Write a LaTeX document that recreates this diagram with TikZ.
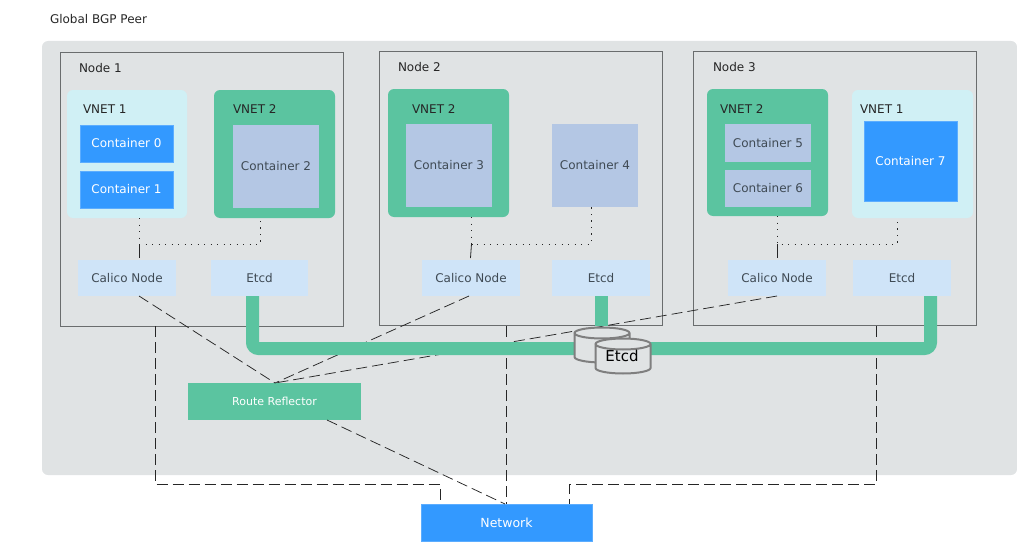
\documentclass[tikz,border=0pt]{standalone}
\usepackage{fontspec}
\setmainfont{DejaVu Sans}
\usetikzlibrary{shapes.geometric}
\definecolor{panel}{HTML}{E0E3E4}
\definecolor{cyanbox}{HTML}{D0F0F5}
\definecolor{greenbox}{HTML}{5BC4A0}
\definecolor{bluebox}{HTML}{3399FF}
\definecolor{paleblue}{HTML}{B4C7E4}
\definecolor{lightblue}{HTML}{CFE4F8}
\definecolor{inktext}{HTML}{3F4A54}
\definecolor{nodeline}{HTML}{6A6D6E}
\definecolor{drumline}{HTML}{7F7F7F}
\tikzset{
  x=1pt,y=-1pt,
  every node/.style={inner sep=0pt,outer sep=0pt,font=\fontsize{12}{14}\selectfont},
  frame/.style={rectangle,draw=nodeline,line width=.9pt,anchor=center},
  vnetone/.style={rectangle,fill=cyanbox,rounded corners=6pt},
  vnettwo/.style={rectangle,fill=greenbox,rounded corners=6pt},
  cont/.style={rectangle,fill=bluebox,text=white,draw=bluebox!80!white,line width=.3pt},
  contpale/.style={rectangle,fill=paleblue,text=inktext},
  svc/.style={rectangle,fill=lightblue,text=inktext},
  caption/.style={text=black!85,anchor=west},
  pipe/.style={draw=greenbox,line width=13pt,rounded corners=6pt},
  dots/.style={draw=black!85,line width=.8pt,dash pattern=on 1.2pt off 5.3pt},
  stem/.style={draw=black!85,line width=.8pt},
  longdash/.style={draw=black!85,line width=.75pt,dash pattern=on 11pt off 5pt},
  drum/.style={draw=drumline,line width=2pt,fill=panel},
}
\begin{document}
\begin{tikzpicture}
\useasboundingbox (0,0) rectangle (1017,543);
\fill[panel,rounded corners=6pt] (42,41) rectangle (1017,475);
\node[caption] (title) at (50,19) {Global BGP Peer};

% Node frames
\node[frame,minimum width=283pt,minimum height=274pt] (node1) at (201.5,189) {};
\node[frame,minimum width=283pt,minimum height=274pt] (node2) at (520.5,188) {};
\node[frame,minimum width=283pt,minimum height=274pt] (node3) at (834.5,188) {};
\node[caption] (node1t) at (79,68) {Node 1};
\node[caption] (node2t) at (398,67) {Node 2};
\node[caption] (node3t) at (713,67) {Node 3};

% VNETs
\node[vnetone,minimum width=120pt,minimum height=128pt] (v11) at (127,154) {};
\node[vnettwo,minimum width=121pt,minimum height=128pt] (v12) at (274.5,154) {};
\node[vnettwo,minimum width=121pt,minimum height=128pt] (v22) at (448.5,153) {};
\node[vnettwo,minimum width=121pt,minimum height=127pt] (v32) at (767.5,152.5) {};
\node[vnetone,minimum width=121pt,minimum height=128pt] (v31) at (912.5,154) {};
\node[caption] at (83,109) {VNET 1};
\node[caption] at (233,109) {VNET 2};
\node[caption] at (412,109) {VNET 2};
\node[caption] at (720,109) {VNET 2};
\node[caption] at (860,109) {VNET 1};

% Containers
\node[cont,minimum width=93pt,minimum height=37pt] (c0) at (126.5,143.5) {Container 0};
\node[cont,minimum width=93pt,minimum height=37pt] (c1) at (126.5,189.5) {Container 1};
\node[contpale,minimum width=86pt,minimum height=83pt] (c2) at (276,166.5) {Container 2};
\node[contpale,minimum width=86pt,minimum height=83pt] (c3) at (449,165.5) {Container 3};
\node[contpale,minimum width=86pt,minimum height=83pt] (c4) at (595,165.5) {Container 4};
\node[contpale,minimum width=86pt,minimum height=38pt] (c5) at (768,143) {Container 5};
\node[contpale,minimum width=86pt,minimum height=37pt] (c6) at (768,188.5) {Container 6};
\node[cont,minimum width=93pt,minimum height=80pt] (c7) at (910.5,161) {Container 7};

% Services
\node[svc,minimum width=98pt,minimum height=36pt] (cal1) at (127,278) {Calico Node};
\node[svc,minimum width=97pt,minimum height=36pt] (etcd1) at (259.5,278) {Etcd};
\node[svc,minimum width=98pt,minimum height=36pt] (cal2) at (471,278) {Calico Node};
\node[svc,minimum width=98pt,minimum height=36pt] (etcd2) at (601,278) {Etcd};
\node[svc,minimum width=98pt,minimum height=36pt] (cal3) at (777,278) {Calico Node};
\node[svc,minimum width=98pt,minimum height=36pt] (etcd3) at (902,278) {Etcd};

\node[rectangle,fill=greenbox,text=white,minimum width=173pt,minimum height=37pt,font=\fontsize{11}{13}\selectfont] (rr) at (274.5,401.5) {Route Reflector};
\node[cont,minimum width=171pt,minimum height=37pt,font=\fontsize{12.5}{14}\selectfont] (net) at (506.5,522.5) {Network};

% Dotted links
\coordinate (j1) at (139,244);
\coordinate (j1b) at (260,244);
\coordinate (j2) at (471.5,244);
\coordinate (j2b) at (591,244);
\coordinate (j3) at (777,244);
\coordinate (j3b) at (897,244);
\coordinate (stem2) at (470.5,258);
\draw[dots] (139,218) -- (j1) -- (j1b) -- (260,218);
\draw[dots] (471.5,217) -- (j2) -- (j2b) -- (591,207);
\draw[dots] (777,216) -- (j3) -- (j3b) -- (897,218);
\draw[stem] (j1) -- (139,258);
\draw[stem] (j2) -- (stem2);
\draw[stem] (j3) -- (777,258);

% Dashed links
\coordinate (rrtop) at (275,383);
\coordinate (s1) at (139,296);
\coordinate (s2) at (469,296);
\coordinate (s3) at (777,296);
\coordinate (rrb) at (327,420);
\coordinate (neta) at (505,504);
\draw[longdash] (s1) -- (rrtop);
\draw[longdash] (s2) -- (rrtop);
\draw[longdash] (s3) -- (rrtop);
\draw[longdash] (rrb) -- (neta);
\coordinate (d1) at (155,326);
\coordinate (d1c) at (155,484.5);
\coordinate (d1n) at (440,504);
\coordinate (d3) at (876,326);
\coordinate (d3c) at (876,484.5);
\coordinate (d3n) at (569,504);
\draw[longdash] (d1) -- (d1c) -| (d1n);
\draw[longdash] (506,326) -- (506,504);
\draw[longdash] (d3) -- (d3c) -| (d3n);

% Green pipes
\coordinate (pipeL) at (252.5,296);
\coordinate (pipeR) at (930.5,296);
\coordinate (pipeM) at (601.5,296);
\coordinate (bus) at (601.5,348.5);
\draw[pipe] (pipeL) |- (bus) -| (pipeR);
\draw[draw=greenbox,line width=13pt] (pipeM) -- (601.5,325.5);

% Etcd store
\draw[drum] (574.5,333) -- (574.5,357) arc[start angle=180,end angle=360,x radius=27.5pt,y radius=5.5pt] -- (629.5,333) arc[start angle=0,end angle=360,x radius=27.5pt,y radius=5.5pt];
\draw[drum] (595.5,344) -- (595.5,368) arc[start angle=180,end angle=360,x radius=27.5pt,y radius=5.5pt] -- (650.5,344) arc[start angle=0,end angle=360,x radius=27.5pt,y radius=5.5pt];
\node[text=black,font=\fontsize{15}{16}\selectfont] (store) at (622,356) {Etcd};
\end{tikzpicture}
\end{document}
